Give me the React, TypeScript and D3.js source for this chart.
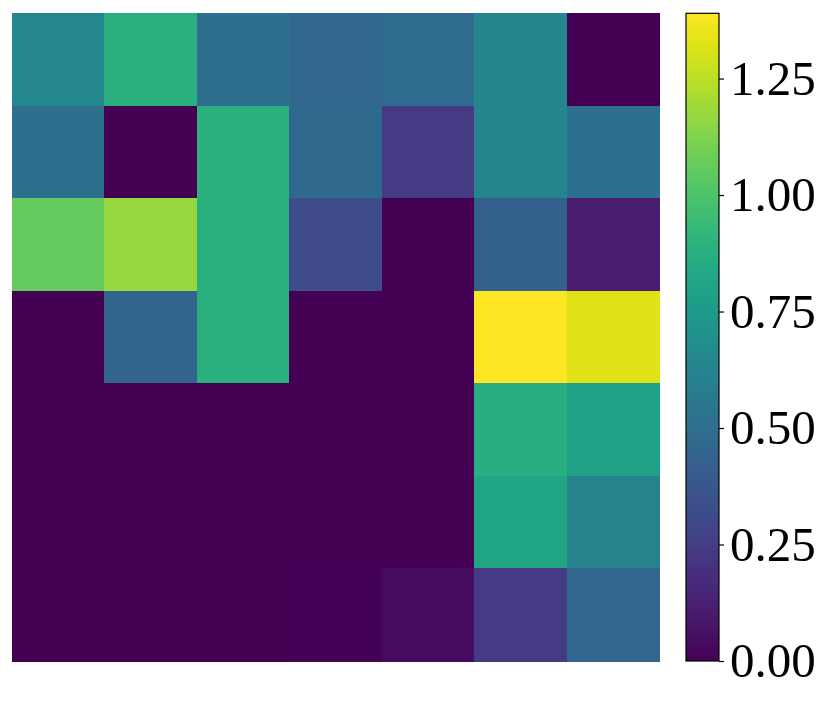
import React, { useEffect, useRef } from "react";
import * as d3 from "d3";

const rows = [0, 1, 2, 3, 4, 5, 6];
const cols = [0, 1, 2, 3, 4, 5, 6];
const values = [
  [0.64, 0.88, 0.5, 0.46, 0.48, 0.63, 0.0],
  [0.5, 0.0, 0.89, 0.47, 0.24, 0.63, 0.51],
  [1.06, 1.17, 0.88, 0.32, 0.0, 0.42, 0.11],
  [0.0, 0.45, 0.88, 0.0, 0.0, 1.39, 1.32],
  [0.0, 0.0, 0.0, 0.0, 0.0, 0.87, 0.79],
  [0.0, 0.0, 0.0, 0.0, 0.0, 0.82, 0.62],
  [0.0, 0.0, 0.0, 0.01, 0.04, 0.24, 0.46],
];
const vmin = 0;
const vmax = 1.39;
const cbTicks = [0, 0.25, 0.5, 0.75, 1.0, 1.25];

const W = 831;
const H = 703;
const hm = { left: 11.5, top: 13.3, right: 659, bottom: 661 };
const cb = { left: 686, right: 719, top: 13.3, bottom: 661 };

const App = () => {
  const ref = useRef<SVGSVGElement>(null);

  useEffect(() => {
    const svg = d3.select(ref.current);
    svg.selectAll("*").remove();

    const x = d3.scaleBand<number>().domain(cols).range([hm.left, hm.right]);
    const y = d3.scaleBand<number>().domain(rows).range([hm.top, hm.bottom]);
    const color = d3.scaleSequential(d3.interpolateViridis).domain([vmin, vmax]);

    const cells = values.flatMap((row, r) => row.map((v, c) => ({ r, c, v })));

    svg
      .append("g")
      .selectAll("rect")
      .data(cells)
      .join("rect")
      .attr("x", (d) => x(d.c)!)
      .attr("y", (d) => y(d.r)!)
      .attr("width", x.bandwidth() + 0.5)
      .attr("height", y.bandwidth() + 0.5)
      .attr("fill", (d) => color(d.v))
      .attr("shape-rendering", "crispEdges");

    // colorbar
    const defs = svg.append("defs");
    const grad = defs
      .append("linearGradient")
      .attr("id", "cbgrad")
      .attr("x1", "0")
      .attr("y1", "1")
      .attr("x2", "0")
      .attr("y2", "0");
    d3.range(0, 1.0001, 0.02).forEach((t) => {
      grad
        .append("stop")
        .attr("offset", t)
        .attr("stop-color", d3.interpolateViridis(t));
    });

    const cy = d3.scaleLinear().domain([vmin, vmax]).range([cb.bottom, cb.top]);

    svg
      .append("rect")
      .attr("x", cb.left)
      .attr("y", cb.top)
      .attr("width", cb.right - cb.left)
      .attr("height", cb.bottom - cb.top)
      .attr("fill", "url(#cbgrad)")
      .attr("stroke", "#000")
      .attr("stroke-width", 1.2);

    const axis = d3
      .axisRight(cy)
      .tickValues(cbTicks)
      .tickFormat(d3.format(".2f"))
      .tickSize(5)
      .tickPadding(6);

    const g = svg
      .append("g")
      .attr("transform", `translate(${cb.right},0)`)
      .call(axis);
    g.select(".domain").remove();
    g.selectAll("line").attr("stroke", "#000").attr("stroke-width", 1.2);
    g.selectAll("text")
      .attr("fill", "#000")
      .style("font-family", "'Liberation Serif', 'Times New Roman', serif")
      .style("font-size", "49px");
  }, []);

  return (
    <svg
      ref={ref}
      width={W}
      height={H}
      style={{ position: "absolute", left: 0, top: 0, background: "#fff" }}
    />
  );
};

export default App;
